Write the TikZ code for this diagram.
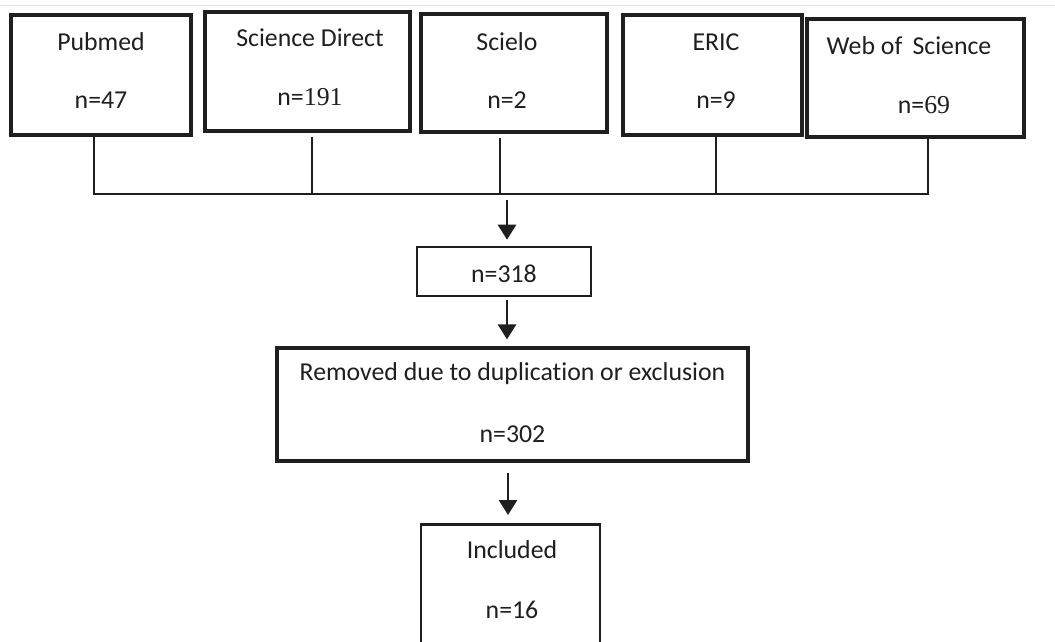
\documentclass[tikz,border=0pt]{standalone}
\usepackage{fontspec}
\setmainfont{Carlito}[Ligatures=NoCommon]
\newfontfamily\timesf{Liberation Serif}
\usetikzlibrary{arrows.meta}
\tikzset{
  box/.style={draw=black!88, line width=3.2pt, inner sep=0pt},
  thinbox/.style={draw=black!88, line width=2.6pt, inner sep=0pt},
  txt/.style={inner sep=0pt, font=\fontsize{25.8pt}{29pt}\selectfont, text=black!88},
  conn/.style={draw=black!88, line width=2.4pt},
  arr/.style={draw=black!88, line width=2.6pt, -{Triangle[width=18pt,length=15pt]}},
}
\begin{document}
\begin{tikzpicture}[x=1pt,y=-1pt]
\useasboundingbox[fill=white] (0,0) rectangle (1055,641);
\draw[black!12, line width=1pt] (0,5.5) -- (1055,5.5);
% top boxes
\node[box, minimum width=180, minimum height=120] (pub) at (101,75) {};
\node[box, minimum width=205, minimum height=119] (sd) at (307.5,71.5) {};
\node[box, minimum width=186, minimum height=118] (sci) at (514,73) {};
\node[box, minimum width=179, minimum height=120] (eric) at (712.5,75) {};
\node[box, minimum width=217, minimum height=118] (wos) at (915.5,78) {};
\node[txt] (pubt) at (101,42) {Pubmed};
\node[txt] (pubn) at (101,100) {n=47};
\node[txt] (sdt) at (310,38) {Science Direct};
\node[txt] (sdn) at (310,97) {n={\timesf 191}};
\node[txt] (scit) at (507,42) {Scielo};
\node[txt] (scin) at (507,100) {n=2};
\node[txt] (erict) at (716,42) {ERIC};
\node[txt] (ericn) at (716,100) {n=9};
\node[txt] (wost) at (909,46) {Web of\, Science};
\node[txt] (wosn) at (924,105) {n={\timesf 69}};
% junction
\coordinate (jl) at (94,194);
\coordinate (jsd) at (312,194);
\coordinate (jm) at (500,194);
\coordinate (jer) at (716,194);
\coordinate (jr) at (928,194);
\draw[conn] (pub.south -| jl) -- (jl) -- (jr) -- (wos.south -| jr);
\draw[conn, shorten <=4pt] (sd.south -| jsd) -- (jsd);
\draw[conn, shorten <=4pt] (sci.south -| jm) -- (jm);
\draw[conn] (eric.south -| jer) -- (jer);
% middle
\node[thinbox, minimum width=174, minimum height=49] (n318) at (504,271.5) {};
\node[txt] (n318t) at (504,274) {n=318};
\node[box, minimum width=471, minimum height=113] (rem) at (512.5,404.5) {};
\node[txt] (remt) at (512.5,374) {Removed due to duplication or exclusion};
\node[txt] (remn) at (512.5,434) {n=302};
\node[thinbox, minimum width=179, minimum height=140, anchor=north] (inc) at (510.5,523) {};
\node[txt] (inct) at (512,550) {Included};
\node[txt] (incn) at (512,610) {n=16};
\coordinate (a1) at (507,194);
\draw[arr, shorten <=6pt, shorten >=6pt] (a1) -- (a1 |- n318.north);
\draw[arr, shorten <=3pt, shorten >=7pt] (n318.south -| a1) -- (rem.north -| a1);
\draw[arr, shorten <=10pt, shorten >=8pt] (rem.south -| 508,0) -- (inc.north -| 508,0);
\end{tikzpicture}
\end{document}
